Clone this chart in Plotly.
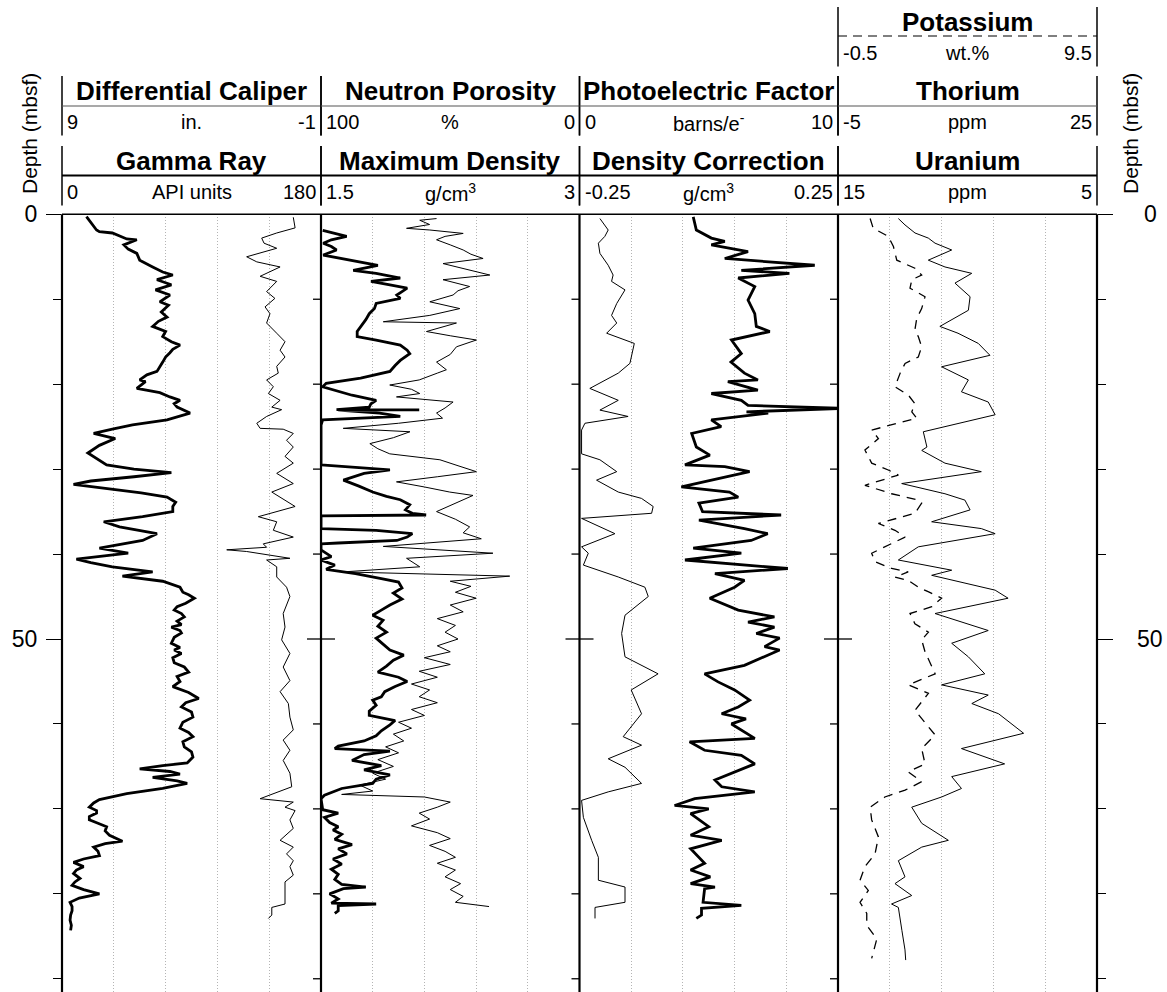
import plotly.graph_objects as go

# ---------------------------------------------------------------- page geometry
W, H = 1167, 992
TRACK_X = [62, 321, 579.5, 838, 1097]          # track borders (px)
Y_TOP = 214.3                                  # depth 0 (px)
PX_PER_M = 8.494
DEPTH_MAX = (H - Y_TOP) / PX_PER_M
FONT = "Liberation Sans"


def px(x):
    return x / W


def py(y):
    return 1 - y / H


# ---------------------------------------------------------------- log data
# Track 1: Gamma Ray (API) and Differential Caliper (in.)
gr_depth = [0.28, 1.0, 1.85, 2.05, 2.2, 2.9, 3.0, 3.6, 4.1, 4.6, 5.4, 6.2, 6.8, 7.15, 7.7, 8.3, 8.9, 9.5,
            10.3, 10.7, 11.5, 12.1, 12.6, 13.2, 13.8, 14.4, 15.0, 15.4, 15.9, 16.3, 16.8, 17.4, 18.0,
            18.5, 18.9, 19.5, 19.7, 20.5, 21.0, 21.5, 21.9, 22.3, 22.7, 23.4, 24.2, 24.8, 25.3, 25.8,
            26.4, 27.2, 28.1, 28.8, 29.5, 30.0, 30.4, 30.9, 31.4, 31.8, 32.3, 32.8, 33.3, 33.9, 34.4,
            35.0, 35.6, 36.2, 36.8, 37.6, 38.4, 39.3, 39.9, 40.2, 40.6, 41.0, 41.5, 42.1, 42.6, 43.2,
            43.9, 44.5, 44.8, 45.2, 45.8, 46.2, 46.6, 47.0, 47.4, 47.9, 48.3, 48.6, 49.0, 49.3, 49.8,
            50.5, 51.0, 51.3, 51.7, 52.2, 52.8, 53.3, 53.9, 54.4, 55.0, 55.6, 56.3, 57.0, 57.5, 58.0,
            58.6, 59.2, 59.8, 60.5, 61.0, 61.5, 62.1, 62.7, 63.3, 63.9, 64.4, 64.6, 64.9, 65.3, 65.6,
            65.9, 66.3, 66.7, 67.0, 67.6, 68.2, 68.9, 69.3, 69.8, 70.2, 70.5, 70.9, 71.3, 71.7, 72.1,
            72.6, 73.1, 73.8, 74.1, 74.5, 75.0, 75.5, 75.9, 76.3, 76.8, 77.2, 77.6, 78.2, 78.6, 79.0,
            79.5, 80.0, 80.5, 81.0, 81.5, 82.0, 82.5, 83.1, 83.7, 84.3]
gr_api = [17, 20, 24, 26, 35, 45, 52, 43, 46, 52, 54, 63, 70, 77, 66, 76, 65, 75,
          68, 74, 69, 73, 67, 63, 72, 70, 76, 82, 77, 75, 72, 70, 68,
          66, 59, 54, 58, 52, 68, 75, 82, 78, 80, 89, 73, 49, 35, 22,
          37, 26, 18, 25, 31, 50, 76, 50, 20, 8, 33, 55, 73, 79, 77,
          77, 56, 29, 40, 66, 56, 26, 46, 30, 10, 20, 35, 63, 42, 70,
          82, 84, 88, 92, 86, 80, 78, 83, 85, 80, 83, 76, 82, 83, 78,
          76, 82, 78, 83, 77, 78, 85, 88, 80, 82, 77, 88, 95, 86, 83,
          90, 91, 84, 82, 88, 91, 84, 85, 90, 91, 88, 87, 70, 54, 75,
          82, 63, 80, 87, 70, 45, 26, 22, 19, 24, 24, 19, 19, 25, 31,
          30, 33, 42, 30, 22, 25, 26, 15, 8, 15, 10, 8, 12.5, 9, 7,
          15, 26, 12, 5.6, 7, 7, 6, 5.6, 6.5, 6]

cal_depth = [0.35, 1.6, 2.2, 2.8, 3.4, 4.0, 5.0, 5.6, 6.2, 7.3, 7.9, 9.1, 9.9, 10.9, 11.7, 12.8, 14.0,
             15.0, 16.0, 16.8, 17.9, 18.7, 19.5, 20.3, 21.1, 21.9, 22.7, 23.0, 23.8, 24.6, 25.2, 25.3,
             25.8, 26.6, 27.4, 28.5, 29.3, 30.5, 31.7, 32.7, 34.4, 35.6, 36.2, 37.2, 38.0, 38.8, 39.2,
             39.5, 39.7, 40.5, 40.7, 41.5, 42.7, 43.9, 45.0, 47.0, 48.6, 50.1, 51.7, 53.3, 54.9, 56.2,
             57.6, 59.2, 60.7, 61.9, 63.1, 64.3, 65.8, 67.4, 68.8, 69.2, 69.8, 70.2, 71.3, 72.3, 73.7,
             74.5, 75.3, 76.1, 76.8, 77.8, 78.6, 81.2, 81.6, 82.5, 82.9]
cal_in = [0.07, 0.0, 0.71, 1.29, 1.2, 0.71, 1.87, 1.48, 0.58, 1.35, 0.71, 1.1, 0.78, 1.16, 0.97, 1.1, 0.71,
          0.39, 0.58, 0.39, 0.71, 0.65, 1.1, 0.84, 1.03, 0.58, 0.9, 0.52, 1.1, 1.48, 1.35, 0.46,
          0.07, 0.33, 0.07, 0.39, 0.07, 0.71, 0.07, 0.9, 0.0, 1.42, 0.71, 0.84, 0.07, 1.23, 1.1,
          2.64, 1.87, 0.2, 1.1, 0.71, 0.71, 0.33, 0.2, 0.46, 0.39, 0.52, 0.2, 0.46, 0.2, 0.58,
          0.26, 0.2, 0.07, 0.46, 0.2, 0.46, 0.2, 0.13, 1.35, 0.07, 0.39, 0.0, 0.2, 0.07, 0.58,
          0.07, 0.33, 0.07, 0.2, 0.07, 0.39, 0.39, 0.9, 0.9, 1.03]

# Track 2: Maximum Density (g/cm3) and Neutron Porosity (%)
rho_depth = [1.9, 2.3, 2.6, 3.0, 3.4, 3.8, 4.2, 4.8, 5.4, 6.0, 6.6, 6.95, 7.5, 7.9, 8.3, 8.7, 9.1, 9.5,
             9.9, 10.5, 11.1, 11.7, 12.4, 13.2, 13.8, 14.4, 14.8, 15.4, 16.0, 16.4, 17.2, 17.8, 18.5,
             19.3, 19.9, 20.3, 20.9, 21.3, 21.9, 22.3, 22.7, 23.0, 23.02, 23.05, 23.4, 23.8, 24.2,
             24.8, 29.5, 30.1, 30.5, 31.3, 32.0, 32.7, 33.2, 33.6, 34.2, 34.8, 35.2, 35.4, 35.5, 37.0,
             37.2, 37.4, 37.6, 38.0, 38.4, 38.7, 38.8, 39.5, 40.3, 40.7, 41.3, 41.8, 42.3, 42.9, 43.3,
             44.0, 44.6, 45.3, 46.0, 46.6, 47.2, 47.8, 48.5, 49.2, 49.9, 50.6, 51.3, 51.9, 52.5, 53.2,
             53.9, 54.5, 55.0, 55.6, 56.2, 56.8, 57.2, 57.8, 58.5, 59.0, 59.6, 60.1, 60.8, 61.4, 62.0,
             62.6, 62.9, 63.2, 63.6, 64.3, 64.9, 65.4, 66.0, 66.5, 67.0, 67.6, 68.1, 68.4, 68.8, 70.1,
             70.5, 71.0, 71.6, 72.1, 72.5, 73.0, 73.6, 74.2, 74.7, 75.3, 75.9, 76.5, 77.1, 77.7, 78.3,
             78.9, 79.2, 79.4, 80.0, 80.6, 81.1, 81.2, 81.4, 82.0, 82.3]
rho_gcc = [1.51, 1.60, 1.649, 1.56, 1.513, 1.56, 1.59, 1.513, 1.668, 1.83, 1.687, 1.82, 1.96, 1.79, 1.9,
           2.0, 1.97, 1.94, 1.96, 1.82, 1.81, 1.78, 1.76, 1.73, 1.71, 1.71, 1.82, 1.96, 2.0, 2.015,
           1.96, 1.93, 1.90, 1.73, 1.53, 1.51, 1.62, 1.68, 1.82, 1.79, 1.78, 1.59, 2.07, 1.6, 1.84,
           1.96, 1.51, 1.5, 1.5, 1.9, 1.75, 1.63, 1.72, 1.8, 1.88, 1.96, 2.015, 1.99, 2.03, 2.11, 1.5,
           1.5, 1.82, 1.93, 2.03, 2.0, 1.94, 1.6, 1.5, 1.5, 1.56, 1.5, 1.58, 1.53, 1.7, 1.85, 1.95,
           1.97, 1.92, 1.97, 1.9, 1.85, 1.8, 1.86, 1.83, 1.88, 1.82, 1.86, 1.9, 1.98, 1.92, 1.88,
           1.83, 1.95, 2.0, 1.93, 1.87, 1.85, 1.8, 1.82, 1.78, 1.78, 1.93, 1.9, 1.85, 1.82, 1.75,
           1.6, 1.58, 1.9, 1.75, 1.68, 1.85, 1.75, 1.9, 1.82, 1.8, 1.62, 1.55, 1.52, 1.5, 1.51,
           1.6, 1.52, 1.55, 1.6, 1.57, 1.62, 1.58, 1.68, 1.6, 1.65, 1.57, 1.62, 1.56, 1.6, 1.58,
           1.62, 1.76, 1.63, 1.55, 1.6, 1.56, 1.82, 1.6, 1.6, 1.58]

nphi_depth = [0.5, 0.7, 1.2, 1.65, 1.85, 2.25, 2.6, 3.0, 3.6, 4.2, 4.7, 5.2, 5.8, 6.4, 7.15, 7.7, 8.1, 8.5,
              9.0, 9.5, 10.3, 11.1, 11.9, 12.65, 12.8, 13.3, 13.8, 14.3, 14.8, 15.6, 16.5, 17.4, 18.3,
              18.7, 19.5, 20.1, 20.6, 21.1, 21.5, 22.1, 22.8, 23.4, 24.0, 24.6, 25.2, 25.6, 26.3, 27.0,
              27.6, 28.2, 28.9, 29.6, 30.3, 30.9, 31.5, 32.1, 32.7, 33.1, 34.0, 35.0, 35.9, 36.8, 37.5,
              38.2, 39.1, 39.9, 40.5, 41.5, 42.1, 42.6, 43.2, 43.8, 44.5, 45.2, 46.0, 46.8, 47.6, 48.4,
              49.2, 50.0, 50.8, 51.5, 52.2, 53.0, 53.8, 54.5, 55.3, 56.0, 56.8, 57.5, 58.3, 59.0, 59.8,
              60.5, 61.2, 62.0, 62.7, 63.4, 64.2, 65.0, 65.8, 66.5, 67.2, 67.9, 68.3, 68.6, 69.2, 69.8,
              70.5, 71.2, 72.0, 72.8, 73.5, 74.3, 75.0, 75.7, 76.4, 77.2, 78.0, 78.8, 79.5, 80.3, 81.0,
              81.5]
nphi_pct = [55.3, 61.8, 58, 66.9, 57.9, 45, 52, 55.3, 50, 45, 42, 37.3, 52.8, 45, 34.7, 52.8, 47, 42.5,
            47, 48.9, 57.9, 46.3, 57.9, 75.9, 47.6, 53, 59.2, 50, 39.9, 47.6, 50, 55.3, 51.5,
            55, 62, 73.4, 65, 61.8, 70.8, 48.9, 52, 55.3, 53, 70, 91.4, 65.6, 72, 81.1,
            78, 73.4, 54, 47, 39.9, 55, 70.8, 60, 50.2, 41.2, 48, 55.3, 48, 42.5, 45,
            38, 75.9, 33.5, 66.9, 61.8, 91.4, 27, 50, 42, 48, 40, 50, 45, 55, 48,
            52, 47, 55, 50, 60, 50, 62, 55, 65, 58, 62, 55, 65, 60, 70,
            65, 72, 68, 75, 70, 78, 72, 80, 75, 85, 80, 92, 60, 50, 55,
            62, 58, 65, 55, 50, 58, 52, 48, 55, 48, 52, 46, 50, 45, 48,
            35]

# Track 3: Density Correction (g/cm3) and Photoelectric Factor (barns/e-)
drho_depth = [0.3, 1.85, 2.8, 3.2, 3.6, 4.4, 5.2, 6.0, 6.6, 6.95, 7.5, 8.5, 10.1, 11.7, 13.2, 13.8, 14.8,
              16.4, 17.4, 18.7, 19.5, 19.7, 20.7, 21.1, 21.9, 22.5, 22.85, 23.25, 23.4, 24.2, 25.0,
              25.8, 27.4, 28.35, 29.5, 29.7, 30.3, 32.1, 32.7, 33.3, 34.0, 35.0, 35.4, 36.0, 37.0,
              37.6, 38.4, 39.3, 39.9, 40.7, 41.7, 42.3, 43.1, 43.9, 45.2, 46.6, 47.4, 48.0, 48.6,
              49.35, 49.9, 50.9, 51.3, 53.1, 54.1, 55.05, 56.0, 57.2, 58.0, 58.8, 59.4, 60.0, 61.7,
              62.1, 63.1, 63.7, 64.7, 66.6, 67.4, 68.0, 68.8, 69.6, 70.0, 70.55, 72.1, 73.1, 73.7,
              74.7, 76.4, 77.2, 78.0, 78.8, 79.2, 79.4, 81.0, 81.35, 81.7, 82.5, 82.9]
drho_gcc = [-0.030, -0.024, 0.005, 0.031, 0.005, 0.076, 0.031, 0.205, 0.063, 0.156, 0.057, 0.089, 0.076,
            0.089, 0.092, 0.118, 0.044, 0.063, 0.043, 0.069, 0.095, 0.037, 0.095, 0.005, 0.063, 0.076,
            0.26, 0.073, 0.115, 0.005, 0.024, -0.033, -0.024, 0.002, -0.046, 0.031, 0.079, -0.053,
            0.040, 0.057, -0.019, -0.012, 0.14, -0.019, 0.069, 0.114, 0.082, -0.030, 0.063, -0.046,
            0.153, 0.012, 0.069, 0.050, 0.002, 0.057, 0.127, 0.076, 0.127, 0.092, 0.137, 0.108, 0.137,
            0.069, -0.008, 0.018, 0.050, 0.079, 0.057, 0.025, 0.072, 0.044, 0.089, -0.037, -0.008,
            0.063, 0.089, 0.012, 0.025, 0.089, -0.027, -0.066, 0.000, -0.035, 0.000, -0.035, 0.025,
            -0.035, -0.008, -0.035, 0.003, -0.035, 0.012, -0.008, -0.011, 0.063, -0.014, -0.014,
            -0.024]

pef_depth = [0.5, 1.85, 2.6, 3.4, 4.6, 6.0, 7.15, 7.9, 8.9, 9.5, 10.5, 11.9, 12.8, 14.0, 14.8, 15.2,
             17.55, 18.7, 20.5, 21.9, 23.05, 23.8, 24.6, 25.4, 28.2, 28.9, 30.3, 31.3, 32.7, 33.45,
             34.4, 35.2, 35.8, 37.6, 39.15, 39.9, 41.3, 42.7, 43.9, 45.0, 47.2, 49.35, 52.1, 54.1,
             56.0, 58.8, 61.5, 62.5, 64.1, 65.1, 67.0, 68.0, 69.0, 71.0, 73.7, 75.7, 78.4, 79.2,
             81.0, 81.6, 82.9]
pef_be = [0.79, 1.11, 0.98, 0.73, 0.79, 1.11, 1.3, 1.24, 1.76, 1.63, 1.44, 1.24, 1.44, 1.05, 1.76, 2.12,
          1.95, 1.5, 0.4, 1.5, 0.79, 1.88, 0.21, 0.08, 0.08, 0.79, 1.44, 0.66, 1.5, 2.4,
          2.85, 2.79, 0.08, 1.37, 0.08, 0.34, 0.15, 1.5, 2.53, 2.66, 1.76, 1.63, 1.76, 3.04,
          2.0, 2.4, 1.69, 2.4, 1.11, 1.76, 2.4, 1.11, 0.08, 0.15, 0.47, 0.73, 0.73, 1.76,
          1.76, 0.6, 0.6]

# Track 4: Thorium (ppm) and Potassium (wt.%)
th_depth = [0.5, 1.25, 2.2, 2.8, 3.4, 4.2, 5.4, 6.2, 6.95, 8.1, 9.7, 11.3, 13.2, 14.0, 15.2, 16.6, 17.95,
            19.5, 20.9, 22.1, 23.6, 25.0, 25.6, 27.4, 27.8, 29.3, 30.3, 31.7, 32.9, 33.65, 34.8, 36.2,
            37.0, 37.6, 39.15, 40.7, 41.9, 42.5, 43.5, 44.25, 45.2, 47.0, 49.0, 50.5, 52.1, 54.1,
            55.4, 56.6, 57.6, 58.8, 61.1, 62.9, 64.7, 66.2, 67.6, 68.6, 69.8, 71.7, 73.7, 74.5, 76.1,
            78.0, 78.8, 80.2, 81.2, 81.6, 84.3, 86.6, 87.8]
th_ppm = [1.99, 2.76, 3.92, 5.46, 6.24, 8.17, 5.46, 7.39, 10.49, 8.55, 10.3, 10.1, 6.8, 8.9, 11.25, 12.6,
          7.0, 10.1, 9.3, 12.4, 13.2, 7.39, 4.88, 5.3, 4.7, 7.39, 11.6, 2.38, 7.39, 9.7, 10.3, 5.85,
          11.6, 13.2, 4.3, 1.99, 8.17, 5.85, 10.1, 13.2, 14.7, 6.24, 12.4, 8.17, 10.1, 12.0,
          7.0, 12.4, 10.5, 13.6, 16.5, 9.3, 14.3, 8.17, 9.3, 7.0, 3.54, 4.7, 7.78, 4.7, 1.99,
          2.76, 1.6, 3.54, 1.2, 1.99, 2.4, 2.76, 2.84]

k_depth = [0.5, 1.65, 2.6, 3.8, 5.4, 6.35, 7.15, 7.7, 8.7, 9.7, 11.1, 12.25, 13.6, 14.4, 15.6, 16.8,
           17.55, 18.7, 20.3, 21.3, 22.3, 23.25, 24.0, 24.8, 25.4, 26.4, 27.75, 29.3, 30.1, 30.7,
           31.9, 32.9, 33.65, 34.0, 35.2, 36.4, 37.2, 38.0, 38.75, 39.9, 40.9, 41.7, 42.1, 42.7,
           43.1, 43.9, 44.45, 45.0, 45.2, 46.2, 47.0, 48.2, 49.2, 50.1, 51.5, 54.1, 55.4, 56.4,
           58.4, 61.3, 62.9, 64.7, 65.65, 66.8, 67.8, 68.6, 69.8, 71.3, 73.3, 75.3, 76.8, 78.4,
           79.6, 81.0, 82.3, 83.7, 85.3, 87.6]
k_wt = [0.74, 0.86, 1.44, 1.64, 1.77, 2.47, 2.73, 2.35, 2.28, 2.86, 2.73, 2.54, 2.47, 2.6, 2.73, 2.6,
        2.09, 1.9, 1.7, 2.22, 2.47, 2.35, 2.54, 1.57, 0.8, 1.06, 0.54, 0.8, 1.44, 1.83,
        0.54, 1.57, 2.6, 2.73, 2.47, 1.06, 1.7, 2.09, 1.57, 0.8, 0.93, 1.57, 2.21, 1.7,
        2.21, 2.6, 3.0, 3.38, 3.5, 3.12, 2.28, 2.47, 2.99, 2.73, 2.86, 3.25, 2.21, 2.99,
        2.47, 3.25, 2.73, 2.86, 2.21, 2.73, 2.09, 1.31, 0.74, 0.8, 1.06, 0.93, 0.54, 0.35,
        0.67, 0.35, 0.61, 0.61, 1.0, 0.8]

depth_labels = [0, 50]

# ---------------------------------------------------------------- traces
fig = go.Figure()
THICK, THIN = 2.8, 1.0


def curve(x, y, axis, width, dash="solid"):
    fig.add_trace(go.Scatter(x=x, y=y, xaxis=axis, yaxis="y", mode="lines",
                             line=dict(color="black", width=width, dash=dash),
                             hoverinfo="skip", showlegend=False))


curve(cal_in, cal_depth, "x2", THIN)
curve(gr_api, gr_depth, "x", THICK)
curve(nphi_pct, nphi_depth, "x4", THIN)
curve(rho_gcc, rho_depth, "x3", THICK)
curve(pef_be, pef_depth, "x6", THIN)
curve(drho_gcc, drho_depth, "x5", THICK)
curve(th_ppm, th_depth, "x7", THIN)
curve(k_wt, k_depth, "x8", 1.3, dash="9px,7px")


# ---------------------------------------------------------------- axes
def base_axis(i, rng):
    lo, hi = rng
    step = (hi - lo) / 5
    return dict(domain=[px(TRACK_X[i]), px(TRACK_X[i + 1])], range=list(rng), anchor="y",
                tickvals=[lo + step * k for k in range(1, 5)], showticklabels=False, ticks="",
                showgrid=True, gridcolor="#b4b4b4", griddash="1px,2px", gridwidth=1,
                zeroline=False, showline=False, fixedrange=True, automargin=False)


def over_axis(base, rng):
    return dict(overlaying=base, range=list(rng), anchor="y", visible=False, fixedrange=True,
                automargin=False)


layout_axes = dict(
    xaxis=base_axis(0, (0, 180)), xaxis2=over_axis("x", (9, -1)),
    xaxis3=base_axis(1, (1.5, 3)), xaxis4=over_axis("x3", (100, 0)),
    xaxis5=base_axis(2, (-0.25, 0.25)), xaxis6=over_axis("x5", (0, 10)),
    xaxis7=base_axis(3, (-5, 25)), xaxis8=over_axis("x7", (-0.5, 9.5)),
)

y_common = dict(range=[DEPTH_MAX, 0], tickvals=depth_labels, ticks="outside",
                ticklen=15, tickwidth=1.3, tickcolor="black", showgrid=False, zeroline=False,
                showline=False, tickfont=dict(family=FONT, size=23, color="black"),
                minor=dict(tick0=0, dtick=10, ticks="outside", ticklen=8, tickwidth=1.3,
                           tickcolor="black"),
                fixedrange=True, automargin=False)
yaxis = dict(y_common, domain=[0, py(Y_TOP)], anchor="x", side="left",
             ticktext=[str(d) for d in depth_labels], ticklabelstandoff=4)
yaxis2 = dict(y_common, overlaying="y", anchor="free", position=px(TRACK_X[-1]), side="right",
              showticklabels=False)

# ---------------------------------------------------------------- frame, ticks, headers
shapes = []
annotations = []


def hline(x0, x1, y, width=1.3, color="black", dash="solid", yref="paper"):
    shapes.append(dict(type="line", xref="paper", yref=yref, x0=px(x0), x1=px(x1),
                       y0=py(y) if yref == "paper" else y, y1=py(y) if yref == "paper" else y,
                       line=dict(color=color, width=width, dash=dash)))


def vline(x, y0, y1, width=1.3):
    shapes.append(dict(type="line", xref="paper", yref="paper", x0=px(x), x1=px(x),
                       y0=py(y0), y1=py(y1), line=dict(color="black", width=width)))


# track borders and top line
for xb in TRACK_X:
    vline(xb, Y_TOP, H, width=2.2)
hline(TRACK_X[0], TRACK_X[-1], Y_TOP, width=1.5)

# depth ticks on the inner track borders
for xb in TRACK_X[1:-1]:
    for d in range(10, 100, 10):
        if d == 50:
            hline(xb - 14, xb + 14, d, yref="y")
        else:
            hline(xb - 8, xb, d, yref="y")


def text(x, y, s, size, anchor="center", bold=False, angle=0):
    annotations.append(dict(x=px(x), y=py(y), xref="paper", yref="paper", text=f"<b>{s}</b>" if bold else s,
                            showarrow=False, xanchor=anchor, yanchor="middle", textangle=angle,
                            font=dict(family=FONT, size=size, color="black")))


# right-hand depth labels, centred beyond the right axis ticks
for d in depth_labels:
    annotations.append(dict(x=px(1150), y=d, xref="paper", yref="y", text=str(d), showarrow=False,
                            xanchor="center", yanchor="middle",
                            font=dict(family=FONT, size=23, color="black")))

# header boxes: (track, row top, title, min, unit, max, underline style)
headers = [
    (0, 76, "Differential Caliper", "9", "in.", "-1", "thin"),
    (1, 76, "Neutron Porosity", "100", "%", "0", "thin"),
    (2, 76, "Photoelectric Factor", "0", "barns/e<sup>-</sup>", "10", "thin"),
    (3, 76, "Thorium", "-5", "ppm", "25", "thin"),
    (0, 146, "Gamma Ray", "0", "API units", "180", "thick"),
    (1, 146, "Maximum Density", "1.5", "g/cm<sup>3</sup>", "3", "thick"),
    (2, 146, "Density Correction", "-0.25", "g/cm<sup>3</sup>", "0.25", "thick"),
    (3, 146, "Uranium", "15", "ppm", "5", "thick"),
    (3, 7, "Potassium", "-0.5", "wt.%", "9.5", "dash"),
]
for trk, top, title, lo, unit, hi, style in headers:
    x0, x1 = TRACK_X[trk], TRACK_X[trk + 1]
    vline(x0, top, top + 59.5, width=1.5)
    vline(x1, top, top + 59.5, width=1.5)
    if style == "thin":
        hline(x0, x1, top + 30, width=1.2, color="#555555")
    elif style == "thick":
        hline(x0, x1, top + 29.5, width=2.2)
    else:
        hline(x0, x1, top + 29, width=1.2, dash="9px,6px")
    text((x0 + x1) / 2, top + 15, title, 26, bold=True)
    text(x0 + 3, top + 46, lo, 20, anchor="left")
    text((x0 + x1) / 2, top + 46, unit, 20)
    text(x1 - 3, top + 46, hi, 20, anchor="right")

text(30, 134, "Depth (mbsf)", 21, angle=-90)
text(1131, 134, "Depth (mbsf)", 21, angle=-90)

fig.update_layout(
    template="none",
    width=W, height=H, autosize=False,
    margin=dict(l=0, r=0, t=0, b=0, pad=0, autoexpand=False),
    paper_bgcolor="white", plot_bgcolor="white",
    font=dict(family=FONT, color="black"),
    hovermode=False, showlegend=False,
    yaxis=yaxis, yaxis2=yaxis2, shapes=shapes, annotations=annotations,
    **layout_axes,
)
# keep the right depth axis drawn even though no trace uses it
fig.add_trace(go.Scatter(x=[None], y=[None], xaxis="x7", yaxis="y2", showlegend=False, hoverinfo="skip"))

fig.write_html("out.html", config={"displayModeBar": False})
